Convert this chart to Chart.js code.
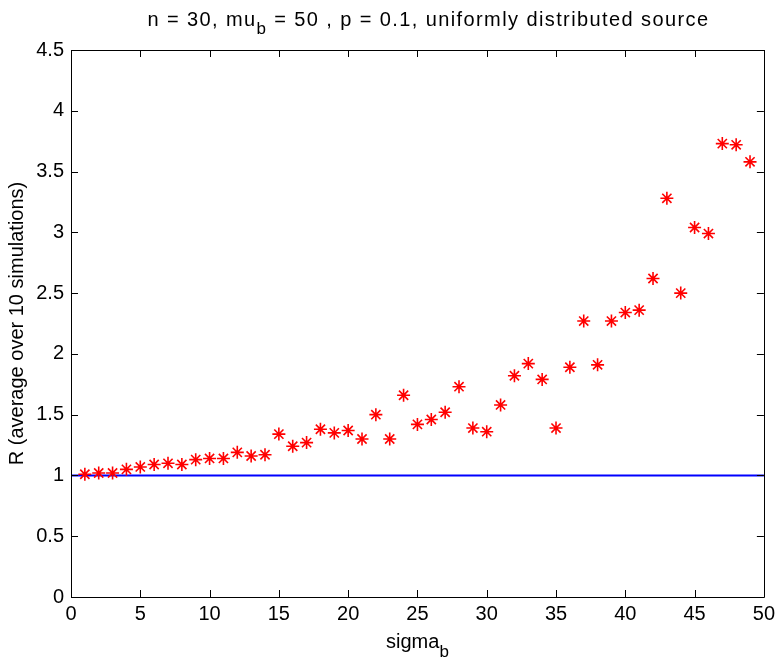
<!DOCTYPE html>
<html>
<head>
<meta charset="utf-8">
<script src="https://cdn.jsdelivr.net/npm/chart.js@4/dist/chart.umd.min.js"></script>
<style>
  html, body { margin: 0; padding: 0; background: #fff; }
  #wrap { width: 780px; height: 662px; }
</style>
</head>
<body>
<div id="wrap"><canvas id="chart"></canvas></div>
<script>
// sigma_b values and averaged R
const sigmaB = [1, 2, 3, 4, 5, 6, 7, 8, 9, 10,
    11, 12, 13, 14, 15, 16, 17, 18, 19, 20,
    21, 22, 23, 24, 25, 26, 27, 28, 29, 30,
    31, 32, 33, 34, 35, 36, 37, 38, 39, 40,
    41, 42, 43, 44, 45, 46, 47, 48, 49];
const ratioR = [1.01, 1.02, 1.02, 1.05, 1.07, 1.09, 1.10, 1.09, 1.13, 1.14,
    1.14, 1.19, 1.16, 1.17, 1.34, 1.24, 1.27, 1.38, 1.35, 1.37,
    1.30, 1.50, 1.30, 1.66, 1.42, 1.46, 1.52, 1.73, 1.39, 1.36,
    1.58, 1.82, 1.92, 1.79, 1.39, 1.89, 2.27, 1.91, 2.27, 2.34,
    2.36, 2.62, 3.28, 2.50, 3.04, 2.99, 3.73, 3.72, 3.58];

// reference line R = 1
const refX = [0, 50];
const refY = [1, 1];

const xTicks = [0, 5, 10, 15, 20, 25, 30, 35, 40, 45, 50];
const yTicks = [0, 0.5, 1, 1.5, 2, 2.5, 3, 3.5, 4, 4.5];

const FONT = 'Liberation Sans, Arial, sans-serif';
const SIZE = 20;

// draw text made of parts, some of them subscripts, centred on x
function textWithSub(ctx, parts, x, y, size, drop, spacing) {
    ctx.save();
    ctx.textBaseline = 'alphabetic';
    ctx.textAlign = 'left';
    ctx.fillStyle = '#000';
    ctx.letterSpacing = spacing + 'px';
    let total = 0;
    parts.forEach(p => {
        ctx.font = (p.sub ? size - 3 : size) + 'px ' + FONT;
        total += ctx.measureText(p.t).width;
    });
    let cx = x - total / 2;
    parts.forEach(p => {
        ctx.font = (p.sub ? size - 3 : size) + 'px ' + FONT;
        ctx.fillText(p.t, cx, p.sub ? y + drop : y);
        cx += ctx.measureText(p.t).width;
    });
    ctx.restore();
}

const matlabAxes = {
    id: 'matlabAxes',
    afterDraw(chart) {
        const ctx = chart.ctx;
        const a = chart.chartArea;
        const xs = chart.scales.x, ys = chart.scales.y;
        const len = 7;
        ctx.save();
        ctx.strokeStyle = '#000';
        ctx.lineWidth = 1;
        ctx.beginPath();
        ctx.rect(Math.round(a.left) + 0.5, Math.round(a.top) + 0.5,
            Math.round(a.right - a.left), Math.round(a.bottom - a.top));
        xTicks.forEach(v => {
            const px = Math.round(xs.getPixelForValue(v)) + 0.5;
            ctx.moveTo(px, a.bottom); ctx.lineTo(px, a.bottom - len);
            ctx.moveTo(px, a.top); ctx.lineTo(px, a.top + len);
        });
        yTicks.forEach(v => {
            const py = Math.round(ys.getPixelForValue(v)) + 0.5;
            ctx.moveTo(a.left, py); ctx.lineTo(a.left + len, py);
            ctx.moveTo(a.right, py); ctx.lineTo(a.right - len, py);
        });
        ctx.stroke();
        ctx.restore();

        const mid = (a.left + a.right) / 2;
        textWithSub(ctx, [
            { t: 'n = 30, mu' }, { t: 'b', sub: true },
            { t: ' = 50 , p = 0.1, uniformly distributed source' }
        ], mid + 11, 26, SIZE, 8, 1.4);
        textWithSub(ctx, [{ t: 'sigma' }, { t: 'b', sub: true }], mid, 648, SIZE, 9, 0);
    }
};

new Chart(document.getElementById('chart').getContext('2d'), {
    type: 'scatter',
    data: {
        datasets: [{
            label: 'R',
            data: sigmaB.map((s, i) => ({ x: s, y: ratioR[i] })),
            pointStyle: 'star',
            pointRadius: 6.5,
            pointHoverRadius: 6.5,
            borderColor: '#ff0000',
            backgroundColor: '#ff0000',
            borderWidth: 1.6,
            showLine: false
        }, {
            label: 'R = 1',
            data: refX.map((x, i) => ({ x: x, y: refY[i] })),
            showLine: true,
            borderColor: '#0000ff',
            borderWidth: 2,
            pointRadius: 0
        }]
    },
    plugins: [matlabAxes],
    options: {
        responsive: true,
        maintainAspectRatio: false,
        animation: false,
        layout: {
            padding: { left: 0, right: 11, top: 50, bottom: 0 }
        },
        scales: {
            x: {
                type: 'linear',
                min: 0,
                max: 50,
                afterFit: s => { s.height = 65; },
                afterBuildTicks: s => { s.ticks = xTicks.map(v => ({ value: v })); },
                grid: { display: false, drawTicks: false },
                border: { display: false },
                ticks: {
                    padding: 5,
                    color: '#000',
                    font: { family: FONT, size: SIZE },
                    callback: v => String(v)
                }
            },
            y: {
                type: 'linear',
                min: 0,
                max: 4.5,
                afterFit: s => { s.width = 71; },
                afterBuildTicks: s => { s.ticks = yTicks.map(v => ({ value: v })); },
                grid: { display: false, drawTicks: false },
                border: { display: false },
                ticks: {
                    padding: 7,
                    color: '#000',
                    font: { family: FONT, size: SIZE },
                    callback: v => String(v)
                },
                title: {
                    display: true,
                    text: 'R (average over 10 simulations)',
                    color: '#000',
                    font: { family: FONT, size: SIZE },
                    padding: { top: 5, bottom: 0 }
                }
            }
        },
        plugins: {
            legend: { display: false },
            title: { display: false },
            tooltip: { enabled: false }
        }
    }
});
</script>
</body>
</html>
